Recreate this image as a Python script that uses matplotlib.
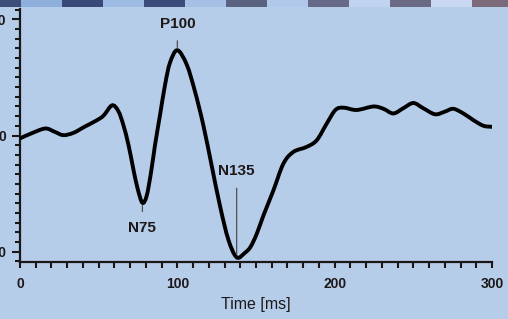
import numpy as np
import matplotlib
matplotlib.use('Agg')
import matplotlib.pyplot as plt
from matplotlib.patches import Rectangle, PathPatch
from matplotlib.path import Path
from matplotlib.ticker import MultipleLocator

# waveform: time [ms] and amplitude
time_ms = [0, 7, 16, 22, 27.5, 34, 41, 48, 53, 58.5, 62.5, 65.7, 69, 72, 74.8, 77.8,
           80.5, 83.3, 85.8, 89, 92.2, 95.3, 100, 106, 111.2, 116.5, 121.8, 127.1,
           132.4, 137.7, 143, 146.5, 150.4, 154.7, 161, 167.4, 173.7, 182.2, 188.6,
           195, 200.5, 205.5, 214, 224.6, 231, 237.3, 243.6, 250, 256.3, 263.8, 270.1,
           275.4, 281.8, 288.1, 294.5, 300]
amplitude = [-0.25, 0.17, 0.6, 0.32, 0.03, 0.23, 0.75, 1.25, 1.7, 2.6, 2.1, 0.9, -0.84,
             -2.87, -4.6, -5.8, -5.2, -3.16, -0.84, 1.77, 4.37, 6.26, 7.35, 6.1, 3.8, 0.9,
             -2.58, -6.06, -8.96, -10.5, -10.1, -9.6, -8.5, -6.9, -4.75, -2.43, -1.42,
             -0.98, -0.41, 1.04, 2.2, 2.4, 2.2, 2.5, 2.3, 1.9, 2.35, 2.8, 2.35, 1.83, 2.06,
             2.3, 1.9, 1.33, 0.84, 0.75]

# labelled components
peak_names = ['N75', 'P100', 'N135']
peak_times = [77.8, 100, 137.7]
peak_text_y = [-8.0, 9.6, -3.1]

x_ticks = [0, 100, 200, 300]
y_ticks = [-10, 0, 10]

# scanner strip colours along the top edge
strip_colors = ['#3d4e7a', '#8fb0dc', '#3a4a78', '#9dbbe3', '#3c4c7a', '#a5c0e5',
                '#5a6280', '#b0c8ea', '#666a88', '#c0d4f0', '#6a6a85', '#cad9f3', '#7a6a7a']

bg = '#b6cdea'
ink = '#1c1818'

fig = plt.figure(figsize=(5.08, 3.19), dpi=100, facecolor=bg)
ax = fig.add_axes([20/508, 1 - 262/319, 472/508, 253/319])
ax.set_facecolor(bg)

# top strip
x0 = -20
for c in strip_colors:
    fig.add_artist(Rectangle((x0/508, 1 - 7/319), 41/508, 7/319,
                             transform=fig.transFigure, color=c, lw=0))
    x0 += 41

# smooth trace through the read points (catmull-rom drawn as bezier path)
pts = np.column_stack([time_ms, amplitude])
ext = np.vstack([pts[0], pts, pts[-1]])
verts = [tuple(pts[0])]
codes = [Path.MOVETO]
for i in range(1, len(ext) - 2):
    p0, p1, p2, p3 = ext[i - 1], ext[i], ext[i + 1], ext[i + 2]
    c1 = p1 + (p2 - p0) / 6.0
    c2 = p2 - (p3 - p1) / 6.0
    verts += [tuple(c1), tuple(c2), tuple(p2)]
    codes += [Path.CURVE4] * 3
ax.add_patch(PathPatch(Path(verts, codes), fill=False, edgecolor='black', lw=2.8,
                       capstyle='round', joinstyle='round', zorder=3))

for name, t, ty in zip(peak_names, peak_times, peak_text_y):
    v = amplitude[time_ms.index(t)]
    ax.annotate(name, xy=(t, v), xytext=(t, ty), ha='center', va='center',
                fontsize=11, fontweight='bold', color=ink, family='Liberation Sans',
                arrowprops=dict(arrowstyle='-', lw=0.9, color='#505050',
                                shrinkA=5, shrinkB=2))

ax.set_xlim(0, 300)
ax.set_ylim(-10.9, 10.9)

for s in ['top', 'right']:
    ax.spines[s].set_visible(False)
for s in ['left', 'bottom']:
    ax.spines[s].set_linewidth(1.6)
    ax.spines[s].set_color(ink)

ax.set_xticks(x_ticks)
ax.set_yticks(y_ticks)
ax.set_yticklabels([str(v) for v in y_ticks])
ax.xaxis.set_minor_locator(MultipleLocator(10))
ax.yaxis.set_minor_locator(MultipleLocator(10/12))
ax.tick_params(axis='x', which='both', direction='out', length=4, width=1.5,
               color=ink, pad=7, labelsize=10)
ax.tick_params(axis='y', which='major', direction='out', length=6, width=1.5,
               color=ink, pad=4, labelsize=10)
ax.tick_params(axis='y', which='minor', direction='out', length=3.5, width=1.5, color=ink)
for lab in ax.get_xticklabels() + ax.get_yticklabels():
    lab.set_family('Liberation Sans')
    lab.set_fontweight('bold')
    lab.set_color(ink)

ax.set_xlabel('Time [ms]', fontsize=11.5, family='Liberation Sans', color=ink, labelpad=4)

fig.savefig('out.png', dpi=100, facecolor=bg)
